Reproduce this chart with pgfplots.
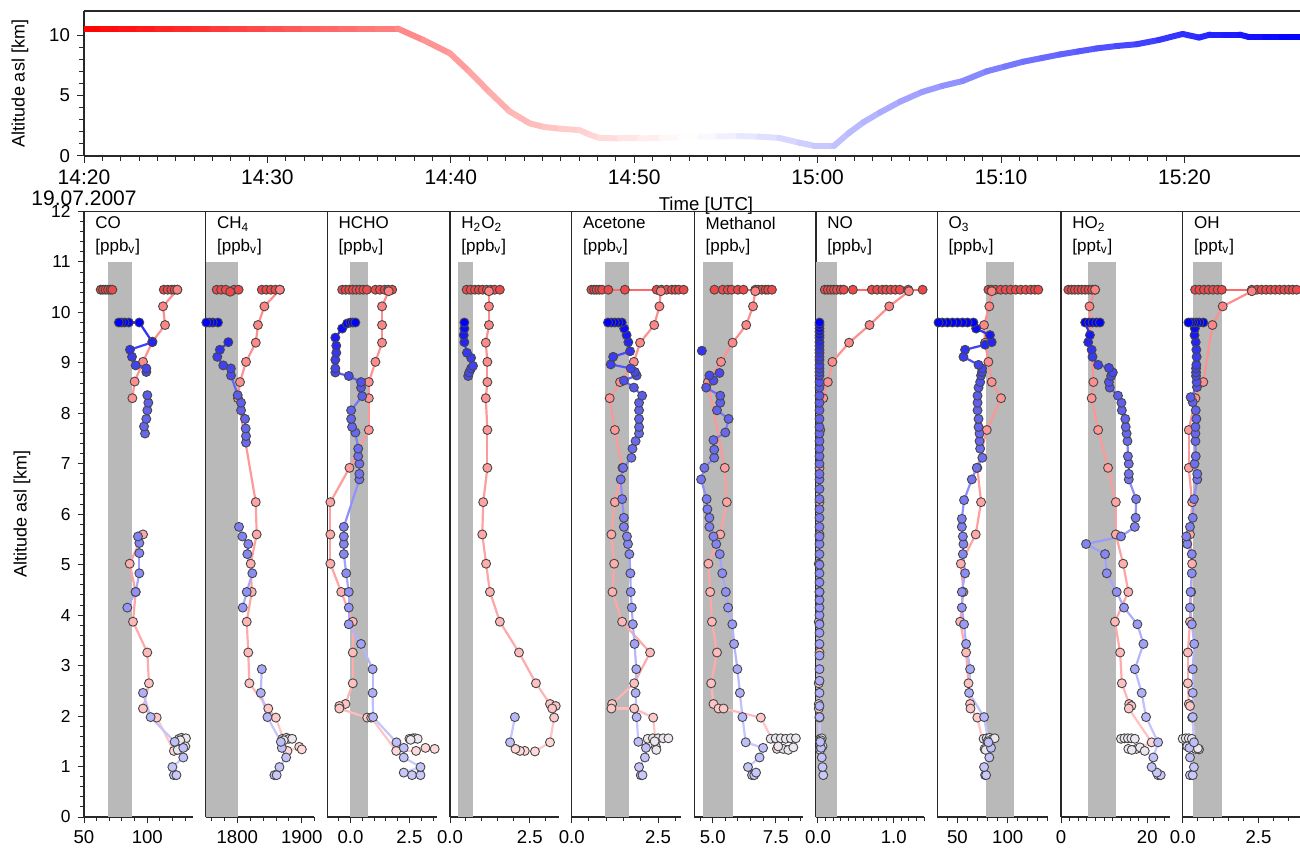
\documentclass[border=0pt]{standalone}
\usepackage{pgfplots}
\pgfplotsset{compat=1.18}
\usepackage{pgfplotstable}
\usepackage{fontspec}
\setmainfont{Liberation Sans}

\definecolor{bandgray}{RGB}{185,185,185}
\definecolor{crucol}{RGB}{238,72,72}
\definecolor{cruline}{RGB}{255,105,105}
\definecolor{lowcol}{RGB}{236,230,238}
\definecolor{axcol}{RGB}{40,40,40}

\pgfplotsset{
  colormap={descM}{rgb255(0cm)=(255,228,228) rgb255(1.5cm)=(255,195,195) rgb255(9.7cm)=(255,128,128)},
  colormap={descL}{rgb255(0cm)=(255,215,215) rgb255(2cm)=(255,172,172) rgb255(9.7cm)=(255,140,140)},
  colormap={ascM}{rgb255(0cm)=(200,200,250) rgb255(4cm)=(140,140,245) rgb255(7.5cm)=(95,95,235) rgb255(8.4cm)=(55,55,240) rgb255(9cm)=(0,0,255) rgb255(9.7cm)=(0,0,255)},
  colormap={ascL}{rgb255(0cm)=(205,205,255) rgb255(4cm)=(165,165,255) rgb255(7.5cm)=(115,115,250) rgb255(9cm)=(40,40,255) rgb255(9.7cm)=(40,40,255)},
  colormap={rwb}{rgb255(0cm)=(255,0,0) rgb255(1cm)=(255,255,255) rgb255(2cm)=(0,0,255)},
}

\pgfplotsset{
  panel/.style={anchor=south west, scale only axis, height=302.75pt, ymin=0, ymax=12,
    axis x line*=bottom, axis y line*=left, tick align=outside, clip=false,
    unbounded coords=jump, point meta min=0.8, point meta max=10.5,
    ytick=\empty, major tick length=3.2pt, minor tick length=2pt,
    x axis line style={shorten >=6.5pt}, axis line style={axcol, line width=0.6pt},
    tick style={axcol, line width=0.5pt},
    xticklabel style={font=\fontsize{9.3}{10}\selectfont, text=black},
    /pgf/number format/assume math mode=true, /pgf/number format/1000 sep={}},
  desL/.style={mesh, colormap name=descL, line width=1.1pt, point meta=y},
  ascL/.style={mesh, colormap name=ascL, line width=1.1pt, point meta=y},
  desM/.style={scatter, only marks, colormap name=descM, mark=*, mark size=2.25pt, point meta=y,
    scatter/use mapped color={draw=black!72, fill=mapped color, line width=0.45pt}},
  ascM/.style={scatter, only marks, colormap name=ascM, mark=*, mark size=2.25pt, point meta=y,
    scatter/use mapped color={draw=black!72, fill=mapped color, line width=0.45pt}},
  cruM/.style={only marks, mark=*, mark size=2.25pt, mark options={draw=black!72, fill=crucol, line width=0.45pt}},
  cruL/.style={no marks, color=cruline, line width=1.1pt},
  lowM/.style={only marks, mark=*, mark size=2.25pt, mark options={draw=black!72, fill=lowcol, line width=0.45pt}},
  band/.style={fill=bandgray, draw=none},
}
\newcommand{\ptitle}[2]{\node[anchor=north west, align=left, inner sep=0pt, font=\fontsize{8.5}{11.25}\selectfont] at (rel axis cs:0,1) [xshift=5.5pt, yshift=-2.5pt] {#1\\{}[#2]};}

% ---------------- CO
\pgfplotstableread{
x y
63.2 10.45
65 10.45
67 10.45
69 10.45
71 10.45
72.4 10.45
113 10.45
116 10.45
119 10.45
121.5 10.45
123.7 10.45
}\COcru
\pgfplotstableread{
x y
123.7 10.45
112.4 10.12
114 9.75
104 9.42
96.6 9.02
90 8.63
88.2 8.30
nan nan
96.6 5.60
86.1 5.02
90.8 4.46
88.7 3.87
100 3.26
101.3 2.65
96.6 2.15
107.4 1.97
121 1.31
}\COdes
\pgfplotstableread{
x y
121 0.83
123 0.83
119.8 0.99
128.4 1.18
128.4 1.37
121.6 1.49
102.6 1.98
96.6 2.46
nan nan
84.2 4.15
90.8 4.46
93.7 4.83
93.7 5.23
93.7 5.43
92.6 5.56
nan nan
98.2 7.60
97.4 7.74
99.2 7.89
100 8.06
100.8 8.21
100 8.36
nan nan
99.2 8.82
99.2 8.89
90.8 8.95
87.9 9.12
86.3 9.26
104 9.41
93.7 9.80
85.4 9.80
82 9.80
79.5 9.80
77.5 9.80
}\COasc
\pgfplotstableread{
x y
125 1.55
127 1.57
129 1.55
130.5 1.56
126 1.52
124 1.33
130 1.40
}\COlow

% ---------------- CH4
\pgfplotstableread{
x y
1768 10.45
1775 10.45
1782 10.45
1795 10.45
1802 10.45
1789 10.41
1838 10.45
1845 10.45
1852 10.45
1859 10.45
1866 10.45
}\CHcru
\pgfplotstableread{
x y
1866 10.45
1842 10.12
1832 9.75
1828.6 9.40
1813.5 9.02
1804.2 8.62
1801 8.30
1828.6 6.24
1830 5.60
1820.8 5.02
1822.4 4.46
1814.6 3.87
1817 3.26
1818.7 2.65
1848 2.15
1859.7 1.97
1877.8 1.31
1896 1.39
1900 1.34
}\CHdes
\pgfplotstableread{
x y
1857.5 0.83
1861 0.83
1865.3 0.99
1875.7 1.18
1869 1.37
1867.5 1.49
1846.7 1.98
1836.4 2.46
1838 2.93
nan nan
1808.4 4.15
1814.6 4.46
1823.3 4.83
1815.6 5.21
1817 5.41
1807.8 5.56
1802.6 5.75
nan nan
1813.5 7.42
1813.5 7.55
1813 7.70
1812 7.89
1805.8 8.06
1805.8 8.21
1800.6 8.36
1790.2 8.75
1790 8.89
1778.2 8.95
1769 9.12
1773 9.26
1786 9.41
nan nan
1770 9.80
1762 9.80
1757 9.80
1752 9.80
}\CHasc
\pgfplotstableread{
x y
1870 1.55
1876 1.57
1880 1.55
1885 1.55
1872 1.52
}\CHlow

% ---------------- HCHO
\pgfplotstableread{
x y
-0.35 10.45
-0.2 10.45
-0.05 10.45
0.1 10.45
0.25 10.45
0.4 10.45
0.55 10.45
0.7 10.45
1.06 10.45
1.25 10.45
1.45 10.45
1.6 10.45
1.77 10.45
}\HCcru
\pgfplotstableread{
x y
1.62 10.42
1.34 10.12
1.34 9.75
1.34 9.40
1.06 9.02
0.78 8.62
0.78 8.30
0.78 7.67
-0.04 6.92
-0.85 6.24
-0.85 5.60
-0.85 5.02
-0.39 4.46
0.1 3.87
0.1 3.26
0.1 2.65
-0.21 2.24
-0.47 2.20
-0.47 2.15
0.71 1.97
0.88 1.97
1.94 1.31
2.78 1.31
3.18 1.37
3.57 1.35
}\HCdes
\pgfplotstableread{
x y
2.61 0.83
2.97 0.83
2.26 0.88
2.97 0.99
2.26 1.18
2.26 1.37
1.95 1.48
0.96 1.98
0.94 2.46
0.94 2.93
0.45 3.43
-0.07 3.82
-0.07 4.15
-0.07 4.46
-0.18 4.83
-0.28 5.21
-0.28 5.41
-0.28 5.56
-0.28 5.75
0.38 6.69
0.38 6.80
0.38 7.00
0.33 7.15
0.33 7.30
0.21 7.62
0.07 7.73
0.03 7.89
0.03 8.06
0.5 8.34
0.45 8.51
0.45 8.62
-0.07 8.74
-0.64 8.81
-0.64 8.89
-0.64 9.06
-0.6 9.20
-0.6 9.34
-0.64 9.50
-0.35 9.68
-0.14 9.78
0.0 9.80
0.1 9.80
0.21 9.80
}\HCasc
\pgfplotstableread{
x y
2.5 1.55
2.65 1.56
2.75 1.56
2.85 1.55
2.55 1.53
}\HClow

% ---------------- H2O2
\pgfplotstableread{
x y
0.52 10.45
0.65 10.45
0.78 10.45
0.9 10.45
1.02 10.45
1.15 10.45
1.28 10.45
1.4 10.45
1.56 10.45
}\HPcru
\pgfplotstableread{
x y
1.22 10.42
1.22 10.12
1.22 9.75
1.12 9.40
1.17 9.02
1.17 8.62
1.12 8.30
1.17 7.67
1.17 6.92
1.04 6.24
1.01 5.60
1.13 5.02
1.25 4.46
1.56 3.87
2.16 3.26
2.69 2.65
3.13 2.24
3.31 2.20
3.2 2.15
3.26 1.97
3.13 1.48
2.66 1.30
2.34 1.31
2.19 1.31
2.05 1.35
}\HPdes
\pgfplotstableread{
x y
1.88 1.48
2.03 1.98
nan nan
0.57 8.74
0.6 8.81
0.66 8.89
0.72 8.94
0.66 9.10
0.53 9.20
0.45 9.41
0.43 9.55
0.45 9.68
0.45 9.80
}\HPasc

% ---------------- Acetone
\pgfplotstableread{
x y
0.57 10.45
0.65 10.45
0.72 10.45
0.8 10.45
0.88 10.45
1.06 10.45
1.54 10.45
2.46 10.45
2.6 10.45
2.75 10.45
2.9 10.45
3.0 10.45
3.1 10.45
3.24 10.45
}\ACcru
\pgfplotstableread{
x y
2.58 10.42
2.54 10.12
2.39 9.75
1.98 9.40
1.8 9.02
1.4 8.62
1.1 8.30
1.25 7.67
1.47 6.92
1.25 6.24
1.15 5.60
1.23 5.02
1.18 4.46
1.46 3.87
2.27 3.26
1.81 2.65
1.17 2.24
1.15 2.15
1.81 2.15
2.36 1.97
2.44 1.39
}\ACdes
\pgfplotstableread{
x y
2.0 0.83
2.05 0.83
1.95 0.99
2.12 1.18
2.15 1.37
1.93 1.49
1.88 1.98
1.85 2.46
1.87 2.93
1.82 3.43
1.77 3.82
1.74 4.15
1.71 4.46
1.7 4.83
1.67 5.21
1.63 5.41
1.6 5.56
1.51 5.75
1.51 5.93
1.46 6.30
1.42 6.69
1.49 6.92
1.73 7.12
1.76 7.30
1.85 7.45
1.95 7.60
1.95 7.73
1.95 7.89
1.95 8.06
1.95 8.21
2.04 8.35
1.8 8.51
1.51 8.65
1.88 8.75
1.83 8.82
1.71 8.89
1.13 8.97
1.2 9.12
1.69 9.23
1.64 9.41
1.59 9.55
1.52 9.68
1.45 9.80
1.35 9.80
1.25 9.80
1.15 9.80
1.05 9.80
}\ACasc
\pgfplotstableread{
x y
2.2 1.55
2.35 1.56
2.5 1.56
2.65 1.56
2.8 1.56
2.4 1.50
2.45 1.33
}\AClow

% ---------------- Methanol
\pgfplotstableread{
x y
5.07 10.45
5.4 10.45
5.6 10.45
5.75 10.45
6.0 10.45
6.22 10.45
6.69 10.45
6.8 10.45
6.95 10.45
7.1 10.45
7.2 10.45
7.35 10.45
}\MEcru
\pgfplotstableread{
x y
6.69 10.42
6.6 10.12
6.33 9.75
5.79 9.40
5.33 9.02
4.81 8.62
5.48 6.92
5.56 6.24
5.3 5.60
4.83 5.02
4.9 4.46
4.97 3.87
5.17 3.26
4.94 2.65
5.03 2.24
5.23 2.15
5.43 2.15
6.91 1.97
7.55 1.35
}\MEdes
\pgfplotstableread{
x y
6.56 0.83
6.65 0.83
6.72 0.88
6.4 0.99
6.86 1.18
7.0 1.37
6.31 1.48
6.18 1.98
6.08 2.46
5.98 2.93
5.85 3.43
5.78 3.82
5.61 4.15
5.52 4.46
5.38 4.83
5.28 5.21
5.14 5.41
5.03 5.56
4.87 5.75
4.87 5.93
4.79 6.10
4.76 6.30
4.54 6.69
4.67 6.92
5.06 7.12
5.06 7.28
5.03 7.47
5.5 7.62
5.63 7.89
5.17 8.06
5.3 8.21
5.3 8.35
4.74 8.51
5.03 8.65
4.87 8.75
5.27 8.80
nan nan
4.57 9.24
}\MEasc
\pgfplotstableread{
x y
7.3 1.55
7.5 1.56
7.7 1.56
7.9 1.55
8.1 1.56
8.3 1.56
7.8 1.35
8.0 1.33
8.2 1.38
7.6 1.40
}\MElow

% ---------------- NO
\pgfplotstableread{
x y
0.09 10.45
0.13 10.45
0.17 10.45
0.21 10.45
0.25 10.45
0.3 10.45
0.34 10.45
0.46 10.45
0.71 10.45
0.78 10.45
0.85 10.45
0.9 10.45
0.96 10.45
1.02 10.45
1.08 10.45
1.19 10.45
1.38 10.45
}\NOcru
\pgfplotstableread{
x y
1.2 10.42
0.94 10.12
0.68 9.75
0.41 9.40
0.19 9.02
0.13 8.62
0.07 8.30
0.03 7.67
0.02 6.92
0.02 6.24
0.02 5.60
0.01 5.02
0.02 4.46
0.01 3.87
0.02 3.26
0.01 2.65
0.01 2.24
0.01 2.15
0.02 1.97
0.03 1.35
}\NOdes
\pgfplotstableread{
x y
0.07 0.83
0.06 0.99
0.05 1.18
0.04 1.37
0.03 1.49
0.02 1.98
0.02 2.20
0.02 2.46
0.02 2.70
0.02 2.93
0.02 3.20
0.02 3.43
0.02 3.65
0.02 3.82
0.02 4.00
0.02 4.15
0.02 4.30
0.02 4.46
0.02 4.65
0.02 4.83
0.02 5.00
0.02 5.21
0.02 5.41
0.02 5.56
0.02 5.75
0.02 5.93
0.02 6.10
0.02 6.30
0.02 6.50
0.02 6.69
0.02 6.80
0.02 7.00
0.02 7.15
0.02 7.30
0.02 7.45
0.02 7.60
0.02 7.73
0.02 7.89
0.02 8.06
0.02 8.21
0.02 8.35
0.02 8.51
0.02 8.62
0.02 8.75
0.02 8.82
0.02 8.89
0.02 8.96
0.02 9.06
0.02 9.12
0.02 9.20
0.02 9.26
0.02 9.34
0.02 9.41
0.02 9.50
0.02 9.55
0.02 9.62
0.02 9.68
0.02 9.75
0.02 9.80
}\NOasc
\pgfplotstableread{
x y
0.03 1.55
0.05 1.56
0.04 1.52
0.06 1.40
0.03 1.33
}\NOlow

% ---------------- O3
\pgfplotstableread{
x y
80.8 10.45
84 10.45
88 10.45
93 10.45
98 10.45
103 10.45
108 10.45
113 10.45
118 10.45
123 10.45
127 10.45
130.4 10.45
}\OZcru
\pgfplotstableread{
x y
84.1 10.42
81.7 10.12
76.5 9.75
77.5 9.40
80.8 9.02
84.1 8.62
93.4 8.30
79.2 7.67
69.8 6.92
73.5 6.24
68.2 5.60
53.4 5.02
56 4.46
52.7 3.87
58.6 3.26
61 2.65
62.6 2.24
63 2.15
69.8 1.97
77 1.35
}\OZdes
\pgfplotstableread{
x y
77.5 0.83
78.5 0.83
76.5 0.99
81.7 1.18
83.4 1.37
80.8 1.48
76.5 1.98
61.6 2.46
62.6 2.93
58.6 3.43
56.6 3.82
54.4 4.15
54.4 4.46
57.6 4.83
55.4 5.21
56 5.41
55.4 5.56
54.4 5.75
54.4 5.91
56.6 6.28
64.3 6.69
69.2 6.92
74.8 7.12
72.6 7.30
72 7.45
72 7.60
71 7.73
71 7.89
70 8.06
70 8.21
70 8.35
71 8.51
72.6 8.62
73.5 8.75
74.5 8.82
74.5 8.89
71 8.96
56 9.12
57.6 9.26
77.5 9.36
84.1 9.41
82.4 9.55
68.6 9.68
65.9 9.80
60 9.80
55 9.80
50 9.80
45 9.80
40 9.80
35 9.80
31.2 9.80
}\OZasc
\pgfplotstableread{
x y
76 1.55
79 1.56
82 1.57
85 1.55
87 1.56
80 1.50
78 1.33
}\OZlow

% ---------------- HO2
\pgfplotstableread{
x y
1.7 10.45
2.5 10.45
3.2 10.45
4.0 10.45
4.8 10.45
5.6 10.45
6.4 10.45
7.2 10.45
7.9 10.45
}\HOcru
\pgfplotstableread{
x y
7.9 10.45
6.6 10.12
7.5 8.62
7.1 8.30
8.6 7.67
10.9 6.92
12.7 6.24
12.7 5.60
14.4 5.02
15.6 4.46
12.5 3.87
13.7 3.26
14.1 2.65
15.8 2.24
16.3 2.20
15.7 2.15
21 1.48
17.5 1.35
}\HOdes
\pgfplotstableread{
x y
22.5 0.83
23.1 0.83
22.2 0.88
21 0.99
21.4 1.18
22.5 1.48
19.7 1.98
18.7 2.46
17.1 2.93
19.1 3.43
17.7 3.82
14.6 4.15
12.9 4.46
10.6 4.83
10.2 5.21
5.8 5.41
13.9 5.56
17.1 5.75
17.3 5.93
17.4 6.30
15.7 6.69
15.7 6.80
15.7 7.00
15.5 7.15
15.4 7.45
15.2 7.60
15.0 7.73
14.9 7.89
14.1 8.06
14.0 8.21
13.2 8.35
11.3 8.51
11.1 8.62
11.6 8.74
12.0 8.81
11.1 8.90
8.6 8.96
7.3 9.12
7.1 9.26
6.3 9.41
6.7 9.55
5.6 9.80
6.5 9.80
7.3 9.80
8.2 9.80
9.0 9.80
}\HOasc
\pgfplotstableread{
x y
13.9 1.55
14.7 1.56
15.5 1.56
16.3 1.56
17.1 1.55
15.6 1.35
16.4 1.33
18.3 1.38
19.4 1.31
}\HOlow

% ---------------- OH
\pgfplotstableread{
x y
0.41 10.45
0.55 10.45
0.7 10.45
0.85 10.45
1.0 10.45
1.15 10.45
1.29 10.45
2.28 10.45
2.45 10.45
2.6 10.45
2.75 10.45
2.9 10.45
3.05 10.45
3.2 10.45
3.35 10.45
3.5 10.45
3.63 10.45
3.76 10.45
}\OHcru
\pgfplotstableread{
x y
2.28 10.42
1.32 10.12
0.98 9.75
0.68 8.62
0.42 8.30
0.2 7.67
0.2 6.92
0.31 6.24
0.24 5.60
0.31 5.02
0.28 4.46
0.24 3.87
0.17 3.26
0.17 2.65
0.2 2.24
0.24 2.20
0.31 1.97
0.42 1.35
0.54 1.34
}\OHdes
\pgfplotstableread{
x y
0.24 0.83
0.33 0.83
0.37 0.99
0.24 1.18
0.22 1.37
0.37 1.48
0.33 1.98
0.33 2.46
0.33 2.93
0.38 3.43
0.3 3.82
0.24 4.15
0.26 4.46
0.3 4.83
0.3 5.21
0.15 5.41
0.12 5.56
0.24 5.75
0.33 5.93
0.37 6.30
0.48 6.69
0.48 6.80
0.39 7.00
0.43 7.15
0.42 7.45
0.42 7.60
0.42 7.73
0.45 7.89
0.43 8.06
0.33 8.22
0.26 8.32
0.47 8.52
0.46 8.62
0.44 8.74
0.44 8.81
0.44 8.89
0.45 8.96
0.46 9.12
0.45 9.26
0.43 9.41
0.39 9.55
0.4 9.68
0.68 9.80
0.55 9.80
0.45 9.80
0.35 9.80
0.27 9.80
0.19 9.80
}\OHasc
\pgfplotstableread{
x y
0.0 1.55
0.1 1.56
0.2 1.56
0.3 1.55
0.15 1.40
0.5 1.36
}\OHlow

\begin{document}
\begin{tikzpicture}
\path[use as bounding box] (0,0) rectangle (650pt,426pt);

% ================= top panel
\begin{axis}[name=top, at={(42pt,348pt)}, anchor=south west, scale only axis,
  width=608pt, height=72.5pt, xmin=0, xmax=66.3, ymin=0, ymax=12,
  axis x line*=box, axis y line*=left, xtick pos=left, tick align=outside,
  axis line style={axcol, line width=0.6pt}, tick style={axcol, line width=0.5pt},
  major tick length=3.5pt, minor tick length=2.5pt,
  xtick={0,10,...,60}, minor x tick num=9, ytick={0,5,10}, minor y tick num=4,
  xticklabels={{14:20\\19.07.2007},14:30,14:40,14:50,15:00,15:10,15:20},
  xticklabel style={align=center, font=\fontsize{10.5}{10.5}\selectfont, text=black},
  yticklabel style={font=\fontsize{9.3}{10}\selectfont, text=black},
  /pgf/number format/assume math mode=true,
  xlabel={Time [UTC]}, xlabel style={at={(axis description cs:0.5115,0)}, anchor=north, yshift=-17pt, font=\fontsize{9.3}{10}\selectfont},
  ylabel={Altitude asl [km]}, ylabel style={at={(axis description cs:-0.0526,0.5)}, anchor=center, font=\fontsize{9}{10}\selectfont},
  point meta min=0, point meta max=66.3]
\addplot[mesh, colormap name=rwb, point meta=x, line width=3pt, line cap=round] coordinates {
(0,10.55) (1,10.55) (2,10.55) (3,10.55) (4,10.55) (5,10.55) (6,10.55) (7,10.55) (8,10.55)
(9,10.55) (10,10.55) (11,10.55) (12,10.55) (13,10.55) (14,10.55) (15,10.55) (16,10.55)
(17.1,10.55) (18.5,9.6) (19.95,8.5) (21.0,7.0) (22.1,5.3)
(23.2,3.7) (24.3,2.7) (25.1,2.4) (26.0,2.25) (27.0,2.15) (27.6,1.75) (28.1,1.5) (29.2,1.45) (30.3,1.45)
(31.5,1.5) (32.5,1.55) (33.6,1.6) (34.6,1.62)
(35.7,1.65) (36.8,1.6) (37.9,1.5) (39.0,1.1) (39.8,0.85) (40.9,0.85) (41.7,1.9) (42.5,2.8) (43.4,3.6)
(44.5,4.5) (45.7,5.3) (46.8,5.8)
(47.9,6.2) (49.2,7.0) (50.2,7.4) (51.2,7.8) (52.2,8.1) (53.2,8.4) (54.2,8.65) (55.2,8.9) (56.3,9.1) (57.4,9.25)
(58.6,9.6) (59.9,10.1) (60.8,9.8)
(61.4,10.05) (62.2,10.05) (63.0,10.05) (63.5,9.85) (64.4,9.85) (65.3,9.85) (66.3,9.85)};
\end{axis}

% ================= CO
\begin{axis}[panel, name=p1, at={(42pt,17.5pt)}, width=60.85pt, xmin=50, xmax=146.1,
  xtick={50,100}, minor xtick={60,70,80,90,110,120,130},
  ytick={0,...,12}, minor y tick num=4,
  yticklabel style={font=\fontsize{8.7}{10}\selectfont, text=black},
  ylabel={Altitude asl [km]}, ylabel style={at={(axis description cs:-0.509,0.5)}, anchor=center, font=\fontsize{9}{10}\selectfont}]
\addplot[band] coordinates {(68.7,0) (68.7,11) (88,11) (88,0)} -- cycle;
\addplot[desL] table {\COdes};
\addplot[ascL] table {\COasc};
\addplot[cruM] table {\COcru};
\addplot[desM] table {\COdes};
\addplot[lowM] table {\COlow};
\addplot[ascM] table {\COasc};
\ptitle{CO}{ppb\textsubscript{v}}
\end{axis}

% ================= CH4
\begin{axis}[panel, name=p2, at={(102.85pt,17.5pt)}, width=60.8pt, xmin=1751, xmax=1939.5,
  xtick={1800,1900}, xticklabels={1800,1900}, minor xtick={1760,1780,1820,1840,1860,1880,1920}]
\addplot[band] coordinates {(1751,0) (1751,11) (1801.6,11) (1801.6,0)} -- cycle;
\addplot[desL] table {\CHdes};
\addplot[ascL] table {\CHasc};
\addplot[cruM] table {\CHcru};
\addplot[desM] table {\CHdes};
\addplot[lowM] table {\CHlow};
\addplot[ascM] table {\CHasc};
\ptitle{CH\textsubscript{4}}{ppb\textsubscript{v}}
\end{axis}

% ================= HCHO
\begin{axis}[panel, name=p3, at={(163.65pt,17.5pt)}, width=61.35pt, xmin=-0.98, xmax=4.22,
  xtick={0,2.5}, xticklabels={0.0,2.5}, minor xtick={-0.5,0.5,1,1.5,2,3,3.5}]
\addplot[band] coordinates {(0,0) (0,11) (0.73,11) (0.73,0)} -- cycle;
\addplot[desL] table {\HCdes};
\addplot[ascL] table {\HCasc};
\addplot[cruM] table {\HCcru};
\addplot[desM] table {\HCdes};
\addplot[lowM] table {\HClow};
\addplot[ascM] table {\HCasc};
\ptitle{HCHO}{ppb\textsubscript{v}}
\end{axis}

% ================= H2O2
\begin{axis}[panel, name=p4, at={(225pt,17.5pt)}, width=60.85pt, xmin=0, xmax=3.81,
  xtick={0,2.5}, xticklabels={0.0,2.5}, minor xtick={0.5,1,1.5,2,3}]
\addplot[band] coordinates {(0.24,0) (0.24,11) (0.73,11) (0.73,0)} -- cycle;
\addplot[desL] table {\HPdes};
\addplot[ascL] table {\HPasc};
\addplot[cruM] table {\HPcru};
\addplot[desM] table {\HPdes};
\addplot[ascM] table {\HPasc};
\ptitle{H\textsubscript{2}O\textsubscript{2}}{ppb\textsubscript{v}}
\end{axis}

% ================= Acetone
\begin{axis}[panel, name=p5, at={(285.85pt,17.5pt)}, width=61.3pt, xmin=0, xmax=3.55,
  xtick={0,2.5}, xticklabels={0.0,2.5}, minor xtick={0.5,1,1.5,2,3}]
\addplot[band] coordinates {(0.95,0) (0.95,11) (1.66,11) (1.66,0)} -- cycle;
\addplot[cruL] table {\ACcru};
\addplot[desL] table {\ACdes};
\addplot[ascL] table {\ACasc};
\addplot[cruM] table {\ACcru};
\addplot[desM] table {\ACdes};
\addplot[lowM] table {\AClow};
\addplot[ascM] table {\ACasc};
\ptitle{Acetone}{ppb\textsubscript{v}}
\end{axis}

% ================= Methanol
\begin{axis}[panel, name=p6, at={(347.15pt,17.5pt)}, width=60.85pt, xmin=4.27, xmax=9.1,
  xtick={5,7.5}, xticklabels={5.0,7.5}, minor xtick={4.5,5.5,6,6.5,7,8,8.5}]
\addplot[band] coordinates {(4.63,0) (4.63,11) (5.8,11) (5.8,0)} -- cycle;
\addplot[cruL] table {\MEcru};
\addplot[desL] table {\MEdes};
\addplot[ascL] table {\MEasc};
\addplot[cruM] table {\MEcru};
\addplot[desM] table {\MEdes};
\addplot[lowM] table {\MElow};
\addplot[ascM] table {\MEasc};
\ptitle{Methanol}{ppb\textsubscript{v}}
\end{axis}

% ================= NO
\begin{axis}[panel, name=p7, at={(408pt,17.5pt)}, width=60.65pt, xmin=-0.026, xmax=1.574,
  xtick={0,1}, xticklabels={0.0,1.0}, minor xtick={0.1,0.2,0.3,0.4,0.5,0.6,0.7,0.8,0.9,1.1,1.2,1.3,1.4}]
\addplot[band] coordinates {(-0.026,0) (-0.026,11) (0.245,11) (0.245,0)} -- cycle;
\addplot[cruL] table {\NOcru};
\addplot[desL] table {\NOdes};
\addplot[ascL] table {\NOasc};
\addplot[cruM] table {\NOcru};
\addplot[desM] table {\NOdes};
\addplot[lowM] table {\NOlow};
\addplot[ascM] table {\NOasc};
\ptitle{NO}{ppb\textsubscript{v}}
\end{axis}

% ================= O3
\begin{axis}[panel, name=p8, at={(468.65pt,17.5pt)}, width=61.85pt, xmin=30, xmax=153,
  xtick={50,100}, minor xtick={40,60,70,80,90,110,120,130,140}]
\addplot[band] coordinates {(78,0) (78,11) (106,11) (106,0)} -- cycle;
\addplot[desL] table {\OZdes};
\addplot[ascL] table {\OZasc};
\addplot[cruM] table {\OZcru};
\addplot[desM] table {\OZdes};
\addplot[lowM] table {\OZlow};
\addplot[ascM] table {\OZasc};
\ptitle{O\textsubscript{3}}{ppb\textsubscript{v}}
\end{axis}

% ================= HO2
\begin{axis}[panel, name=p9, at={(530.5pt,17.5pt)}, width=60.85pt, xmin=0, xmax=28.2,
  xtick={0,20}, minor xtick={2,4,6,8,10,12,14,16,18,22,24}]
\addplot[band] coordinates {(6.2,0) (6.2,11) (12.8,11) (12.8,0)} -- cycle;
\addplot[desL] table {\HOdes};
\addplot[ascL] table {\HOasc};
\addplot[cruM] table {\HOcru};
\addplot[desM] table {\HOdes};
\addplot[lowM] table {\HOlow};
\addplot[ascM] table {\HOasc};
\ptitle{HO\textsubscript{2}}{ppt\textsubscript{v}}
\end{axis}

% ================= OH
\begin{axis}[panel, name=p10, at={(591.35pt,17.5pt)}, width=58.65pt, xmin=0, xmax=3.87,
  x axis line style={shorten >=0pt},
  xtick={0,2.5}, xticklabels={0.0,2.5}, minor xtick={0.5,1,1.5,2,3,3.5}]
\addplot[band] coordinates {(0.35,0) (0.35,11) (1.31,11) (1.31,0)} -- cycle;
\addplot[cruL] table {\OHcru};
\addplot[desL] table {\OHdes};
\addplot[ascL] table {\OHasc};
\addplot[cruM] table {\OHcru};
\addplot[desM] table {\OHdes};
\addplot[lowM] table {\OHlow};
\addplot[ascM] table {\OHasc};
\ptitle{OH}{ppt\textsubscript{v}}
\end{axis}

\draw[axcol, line width=0.6pt] (p1.north west) -- (p10.north east);
\end{tikzpicture}
\end{document}
